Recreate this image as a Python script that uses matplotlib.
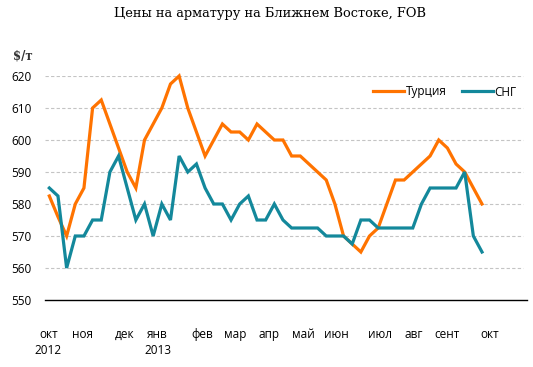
import matplotlib
matplotlib.use("Agg")
import matplotlib.pyplot as plt
import numpy as np

turkey = [582.5, 576, 570, 580, 585, 610, 612.5, 605, 597.5, 590, 585, 600, 605, 610, 617.5, 620,
          610, 602.5, 595, 600, 605, 602.5, 602.5, 600, 605, 602.5, 600, 600, 595, 595, 592.5, 590,
          587.5, 580, 570, 567.5, 565, 570, 572.5, 580, 587.5, 587.5, 590, 592.5, 595, 600, 597.5,
          592.5, 590, 585, 580]
cis = [585, 582.5, 560, 570, 570, 575, 575, 590, 595, 585, 575, 580, 570, 580, 575, 595,
       590, 592.5, 585, 580, 580, 575, 580, 582.5, 575, 575, 580, 575, 572.5, 572.5, 572.5, 572.5,
       570, 570, 570, 567.5, 575, 575, 572.5, 572.5, 572.5, 572.5, 572.5, 580, 585, 585, 585,
       585, 590, 570, 565]

month_labels = ["окт\n2012", "ноя", "дек", "янв\n2013", "фев", "мар", "апр", "май", "июн",
                "июл", "авг", "сент", "окт"]
month_pos = [-0.1, 3.85, 8.75, 12.5, 17.7, 21.5, 25.4, 29.4, 33.2, 38.2, 42.1, 45.9, 50.9]
yticks = [550, 560, 570, 580, 590, 600, 610, 620]

font = "Open Sans"
plt.rcParams["font.family"] = [font, "DejaVu Sans"]

fig = plt.figure(figsize=(5.33, 3.67), dpi=100)
ax = fig.add_axes([45/533, 1-300/367, (527-45)/533, (300-76)/367])

x = np.arange(len(turkey))
orange = "#FF7300"
teal = "#13889B"
ax.plot(x, turkey, color=orange, lw=2.3, label="Турция", clip_on=False, solid_joinstyle="miter", zorder=3)
ax.plot(x, cis, color=teal, lw=2.3, label="СНГ", clip_on=False, solid_joinstyle="miter", zorder=3)

ax.set_xlim(-0.5, 55.2)
ax.set_ylim(550, 620)
ax.set_yticks(yticks)
ax.set_yticklabels([str(v) for v in yticks], fontsize=8.5)
ax.set_xticks(month_pos)
ax.set_xticklabels(month_labels, fontsize=8.5, linespacing=1.35, va="top")
ax.tick_params(axis="x", length=0, pad=20)
ax.tick_params(axis="y", length=0, pad=9.5)

for v in yticks[1:]:
    ax.axhline(v, xmin=0, xmax=(523-45)/(527-45), color="#C4C4C4", lw=0.8,
               dashes=(3, 2), zorder=1)

for s in ["top", "right", "left"]:
    ax.spines[s].set_visible(False)
ax.spines["bottom"].set_color("black")
ax.spines["bottom"].set_linewidth(1.0)

fig.text(270.5/533, 1-14/367, "Цены на арматуру на Ближнем Востоке, FOB",
         ha="center", va="center", fontsize=9.4, family="DejaVu Serif")
fig.text(13/533, 1-56/367, "$/т", ha="left", va="center", fontsize=8.5,
         family="DejaVu Serif", fontweight="bold", color="#333333")

leg = ax.legend(loc="center", bbox_to_anchor=((445-45)/482, (300-92)/224), ncol=2,
                frameon=False, fontsize=8.5, handlelength=2.6, handletextpad=0.15,
                columnspacing=1.3)

fig.savefig("out.png", dpi=100)
